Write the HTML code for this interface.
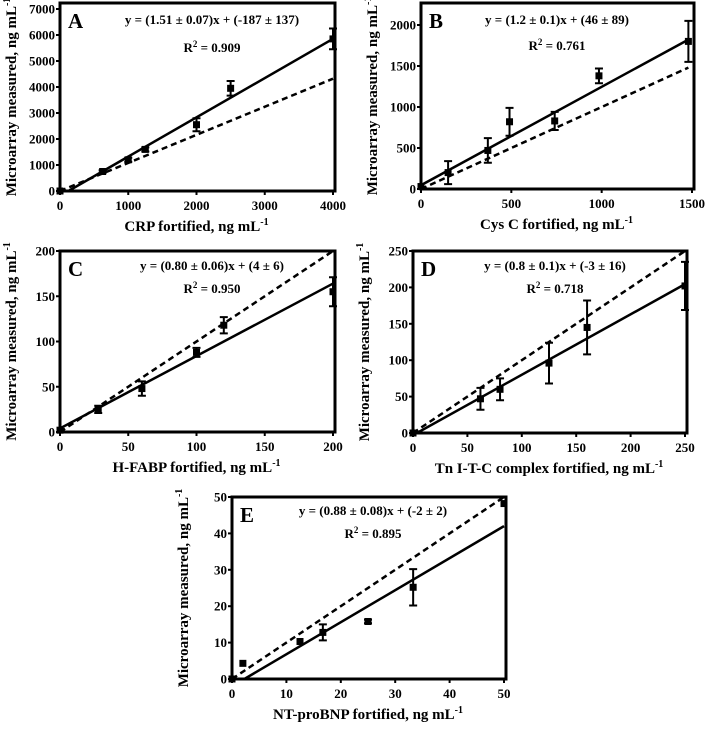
<!DOCTYPE html>
<html><head><meta charset="utf-8">
<style>
html,body{margin:0;padding:0;background:#fff;}
svg, svg text{font-family:"Liberation Serif","DejaVu Serif",serif !important;font-weight:700;fill:#000;}
</style></head>
<body>
<svg id="fig" width="708" height="726" viewBox="0 0 708 726" xmlns="http://www.w3.org/2000/svg" font-family="Liberation Serif, serif" font-weight="bold"></svg>
<script>
// Panel A data
const aX=[0,625,1000,1250,2000,2500,4000];
const aY=[0,750,1200,1600,2550,3950,5850];
const aE=[0,50,80,80,250,280,400];
const aTicksX=[0,1000,2000,3000,4000];
const aTicksY=[0,1000,2000,3000,4000,5000,6000,7000];
const aFit=[1.51,-187];
const aRef=[1.08,0];
// Panel B data
const bX=[0,150,370,490,740,985,1480];
const bY=[30,200,470,820,830,1380,1800];
const bE=[0,140,150,170,110,90,250];
const bTicksX=[0,500,1000,1500];
const bTicksY=[0,500,1000,1500,2000];
const bFit=[1.2,46];
const bRef=[1,0];
// Panel C data
const cX=[0,28,60,100,120,200];
const cY=[2,25,48,88,118,155];
const cE=[0,4,8,5,9,16];
const cTicksX=[0,50,100,150,200];
const cTicksY=[0,50,100,150,200];
const cFit=[0.8,4];
const cRef=[1,0];
// Panel D data
const dX=[0,62,80,125,160,250];
const dY=[0,47,60,96,145,202];
const dE=[0,15,15,28,37,33];
const dTicksX=[0,50,100,150,200,250];
const dTicksY=[0,50,100,150,200,250];
const dFit=[0.83,-3];
const dRef=[1,0];
// Panel E data
const eX=[0,2,12.5,16.7,25,33.3,50];
const eY=[0,4.3,10.3,12.8,15.8,25.2,48.2];
const eE=[0,0,0,2.2,0.5,5,0];
const eTicksX=[0,10,20,30,40,50];
const eTicksY=[0,10,20,30,40,50];
const eFit=[0.88,-2];
const eRef=[1,0];

const NS="http://www.w3.org/2000/svg";
const svg=document.getElementById('fig');
function mk(tag,attrs,parent,txt){const e=document.createElementNS(NS,tag);for(const k in attrs)e.setAttribute(k,attrs[k]);if(tag==='text'){e.setAttribute('font-family','Liberation Serif, serif');e.setAttribute('font-weight','bold');}if(txt!==undefined)e.textContent=txt;(parent||svg).appendChild(e);return e;}

const panels=[
 {id:'a',L:'A',X:aX,Y:aY,E:aE,tx:aTicksX,ty:aTicksY,fit:aFit,ref:aRef,xmax:4000,ymax:7000,x0:60,x1:333,y0:191,y1:9,top:3,eq:'y = (1.51 ± 0.07)x + (-187 ± 137)',r2:'0.909',xt:'CRP fortified, ng mL',eqx:212,ty0:24,r2y:52},
 {id:'b',L:'B',X:bX,Y:bY,E:bE,tx:bTicksX,ty:bTicksY,fit:bFit,ref:bRef,xmax:1500,ymax:2000,x0:421,x1:692,y0:189,y1:25,top:3,eq:'y = (1.2 ± 0.1)x + (46 ± 89)',r2:'0.761',xt:'Cys C fortified, ng mL',eqx:557,ty0:24,r2y:50},
 {id:'c',L:'C',X:cX,Y:cY,E:cE,tx:cTicksX,ty:cTicksY,fit:cFit,ref:cRef,xmax:200,ymax:200,x0:60,x1:333,y0:432,y1:251,top:251,eq:'y = (0.80 ± 0.06)x + (4 ± 6)',r2:'0.950',xt:'H-FABP fortified, ng mL',eqx:212,ty0:270,r2y:293},
 {id:'d',L:'D',X:dX,Y:dY,E:dE,tx:dTicksX,ty:dTicksY,fit:dFit,ref:dRef,xmax:250,ymax:250,x0:413,x1:685,y0:433,y1:251,top:251,eq:'y = (0.8 ± 0.1)x + (-3 ± 16)',r2:'0.718',xt:'Tn I-T-C complex fortified, ng mL',eqx:555,ty0:270,r2y:293},
 {id:'e',L:'E',X:eX,Y:eY,E:eE,tx:eTicksX,ty:eTicksY,fit:eFit,ref:eRef,xmax:50,ymax:50,x0:232,x1:504,y0:679,y1:497,top:497,eq:'y = (0.88 ± 0.08)x + (-2 ± 2)',r2:'0.895',xt:'NT-proBNP fortified, ng mL',eqx:373,ty0:515,r2y:538}
];

panels.forEach(p=>{
 const g=mk('g',{});
 
 
 const sx=v=>p.x0+(p.x1-p.x0)*v/p.xmax;
 const sy=v=>p.y0+(p.y1-p.y0)*v/p.ymax;
 const cp=mk('clipPath',{id:'clip'+p.id},g);
 mk('rect',{x:p.x0,y:p.top,width:p.x1-p.x0+2,height:p.y0-p.top},cp);
 const fr=mk('rect',{x:p.x0,y:p.top,width:p.x1-p.x0+2,height:p.y0-p.top,fill:'none',stroke:'#000','stroke-width':3},g);
 
 
 p.tx.forEach(t=>{
  mk('line',{x1:sx(t),x2:sx(t),y1:p.y0,y2:p.y0+4,stroke:'#000','stroke-width':2},g);
  const tl=mk('text',{x:sx(t),y:p.y0+19,'text-anchor':'middle','font-size':13},g,String(t));
  
  
 });
 p.ty.forEach(t=>{
  mk('line',{x1:p.x0-4,x2:p.x0,y1:sy(t),y2:sy(t),stroke:'#000','stroke-width':2},g);
  const tl=mk('text',{x:p.x0-5,y:sy(t)+4.5,'text-anchor':'end','font-size':13},g,String(t));
  
  
 });
 const xt=mk('text',{x:(p.x0+p.x1)/2,y:p.y0+40,'text-anchor':'middle','font-size':15},g);
 
 
 xt.appendChild(document.createTextNode(p.xt));
 mk('tspan',{dy:-6,'font-size':10},xt,'-1');
 const yt=mk('text',{transform:`translate(${p.x0-44},${(p.y0+p.top)/2}) rotate(-90)`,'text-anchor':'middle','font-size':15},g);
 
 
 yt.appendChild(document.createTextNode('Microarray measured, ng mL'));
 mk('tspan',{dy:-6,'font-size':10},yt,'-1');
 const lt=mk('text',{x:p.x0+8,y:p.top+25,'font-size':21},g,p.L);
 
 
 const eq=mk('text',{x:p.eqx,y:p.ty0,'text-anchor':'middle','font-size':13},g,p.eq);
 
 
 const r2=mk('text',{x:p.eqx,y:p.r2y,'text-anchor':'middle','font-size':13},g);
 
 
 r2.appendChild(document.createTextNode('R'));
 mk('tspan',{dy:-5,'font-size':9},r2,'2');
 mk('tspan',{dy:5},r2,' = '+p.r2);
 const cg=mk('g',{'clip-path':`url(#clip${p.id})`},g);
 const xe=p.X[p.X.length-1];
 const rl=mk('line',{x1:sx(0),y1:sy(p.ref[1]),x2:sx(xe),y2:sy(p.ref[0]*xe+p.ref[1]),stroke:'#000','stroke-width':2.5,'stroke-dasharray':'6,4'},cg);
 
 
 let xs=0;if(p.fit[1]<0)xs=-p.fit[1]/p.fit[0];
 const fl=mk('line',{x1:sx(xs),y1:sy(p.fit[0]*xs+p.fit[1]),x2:sx(xe),y2:sy(p.fit[0]*xe+p.fit[1]),stroke:'#000','stroke-width':2.5},cg);
 
 
 p.X.forEach((x,i)=>{
  const cx=sx(x),cy=sy(p.Y[i]);
  if(p.E[i]>0){
   const yt=sy(p.Y[i]+p.E[i]),yb=sy(p.Y[i]-p.E[i]);
   const eb=mk('path',{d:`M${cx},${yt}V${yb}M${cx-4},${yt}H${cx+4}M${cx-4},${yb}H${cx+4}`,stroke:'#000','stroke-width':2,fill:'none'},g);
   
   
  }
  const pt=mk('rect',{x:cx-3.5,y:cy-3.5,width:7,height:7,fill:'#000'},g);
  
  
 });
});
</script>
</body></html>
